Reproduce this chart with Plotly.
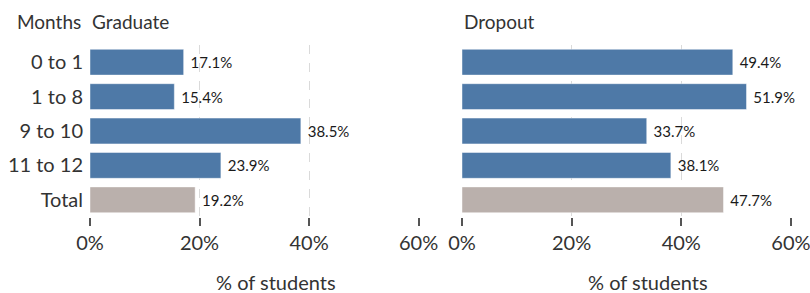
import plotly.graph_objects as go
from plotly.subplots import make_subplots

categories = ["0 to 1", "1 to 8", "9 to 10", "11 to 12", "Total"]
graduate = [0.171, 0.154, 0.385, 0.239, 0.192]
dropout = [0.494, 0.519, 0.337, 0.381, 0.477]
panel_titles = ["Graduate", "Dropout"]
x_ticks = [0, 0.2, 0.4, 0.6]
x_ticklabels = ["0%", "20%", "40%", "60%"]

BLUE = "#4e79a7"
GRAY = "#bab0ac"
colors = [BLUE, BLUE, BLUE, BLUE, GRAY]
FONT = "Lato"

W, H = 810, 293
ml, mr, mt, mb = 90, 19, 45, 76
pw = W - ml - mr
d1 = [0, (418.7 - ml) / pw]
d2 = [(462 - ml) / pw, 1]

fig = make_subplots(rows=1, cols=2, shared_yaxes=False, horizontal_spacing=0.05)

for i, vals in enumerate([graduate, dropout]):
    fig.add_trace(go.Bar(
        y=categories, x=vals, orientation="h",
        marker=dict(color=colors, line=dict(color="rgba(255,255,255,0.45)", width=1)),
        text=vals, texttemplate="\u00a0%{x:.1%}", textposition="outside",
        textfont=dict(family=FONT, size=15, color="#1a1a1a"),
        cliponaxis=False, showlegend=False,
    ), row=1, col=i + 1)

axis_common = dict(
    range=[0, 0.6002], tickvals=x_ticks, ticktext=x_ticklabels,
    showgrid=True, gridcolor="#dadada", griddash="dash", gridwidth=1,
    zeroline=False, showline=False, automargin=False, ticklabeloverflow="allow",
    ticks="outside", ticklen=8, tickwidth=2, tickcolor="#555",
    tickfont=dict(family=FONT, size=20, color="#333"),
)
fig.update_xaxes(**axis_common)
fig.update_layout(xaxis=dict(domain=d1), xaxis2=dict(domain=d2))

fig.update_yaxes(categoryorder="array", categoryarray=categories, autorange="reversed",
                 showgrid=False, zeroline=False, showline=False, ticks="", automargin=False,
                 ticklabelstandoff=6,
                 tickfont=dict(family=FONT, size=20, color="#333"))
fig.update_yaxes(showticklabels=False, row=1, col=2)

annotations = []
for dom, t in zip([d1, d2], panel_titles):
    annotations.append(dict(x=dom[0], y=1, xref="paper", yref="paper", text=t,
                            xanchor="left", yanchor="bottom", yshift=10, showarrow=False,
                            font=dict(family=FONT, size=19, color="#333")))
annotations.append(dict(x=(83 - ml) / pw, y=1, xref="paper", yref="paper", text="Months",
                        xanchor="right", yanchor="bottom", yshift=10, showarrow=False,
                        font=dict(family=FONT, size=19, color="#333")))
for cx in [275.5, 648]:
    annotations.append(dict(x=(cx - ml) / pw, y=0, xref="paper", yref="paper",
                            text="% of students", xanchor="center", yanchor="middle",
                            yshift=-(282 - (H - mb)), showarrow=False,
                            font=dict(family=FONT, size=20, color="#333")))

fig.update_layout(
    width=W, height=H, margin=dict(l=ml, r=mr, t=mt, b=mb, autoexpand=False),
    plot_bgcolor="white", paper_bgcolor="white",
    bargap=0.25, annotations=annotations,
    font=dict(family=FONT),
)

fig.write_html("out.html", config={"displayModeBar": False},
               post_script="document.body.style.margin='0';")
